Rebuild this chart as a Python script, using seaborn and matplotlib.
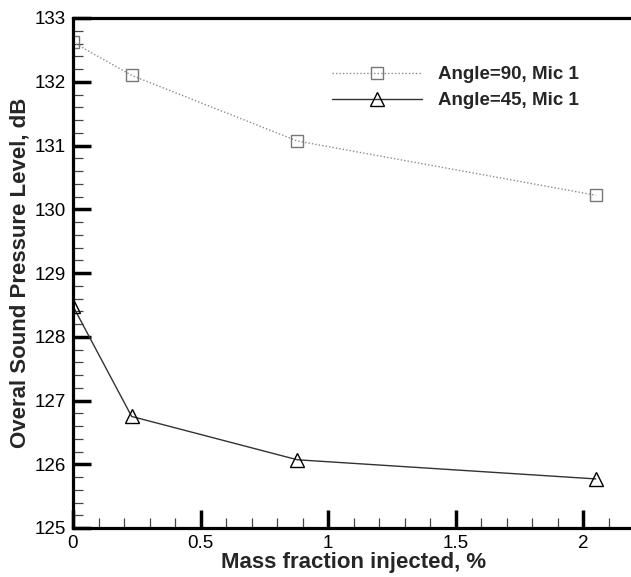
import numpy as np
import pandas as pd
import matplotlib
matplotlib.use("Agg")
import matplotlib.pyplot as plt
import seaborn as sns
from matplotlib.ticker import MultipleLocator, FuncFormatter

# Data
mass_frac = [0.0, 0.23, 0.88, 2.05]
spl_angle90 = [132.62, 132.10, 131.07, 130.22]
spl_angle45 = [128.48, 126.75, 126.07, 125.77]
series_labels = ["Angle=90, Mic 1", "Angle=45, Mic 1"]

df90 = pd.DataFrame({"x": mass_frac, "y": spl_angle90})
df45 = pd.DataFrame({"x": mass_frac, "y": spl_angle45})

sns.set_style("ticks")
plt.rcParams["font.family"] = ["Liberation Sans", "DejaVu Sans"]

fig = plt.figure(figsize=(6.31, 5.77), dpi=100)
ax = fig.add_axes([73 / 631, 49 / 577, (634 - 73) / 631, (528 - 18) / 577])

sns.lineplot(data=df90, x="x", y="y", ax=ax, color="#8c8c8c", linestyle=(0, (1, 1.5)),
             linewidth=1.0, marker="s", markersize=8, markerfacecolor="none",
             markeredgecolor="#777777", markeredgewidth=1.0, label=series_labels[0])
sns.lineplot(data=df45, x="x", y="y", ax=ax, color="#333333", linestyle="-",
             linewidth=1.0, marker="^", markersize=10, markerfacecolor="none",
             markeredgecolor="black", markeredgewidth=1.0, label=series_labels[1])

ax.set_xlim(0, 2.2)
ax.set_ylim(125, 133)
ax.xaxis.set_major_locator(MultipleLocator(0.5))
ax.xaxis.set_minor_locator(MultipleLocator(0.1))
ax.yaxis.set_major_locator(MultipleLocator(1))
ax.yaxis.set_minor_locator(MultipleLocator(0.2))
ax.xaxis.set_major_formatter(FuncFormatter(lambda v, p: f"{v:g}"))

for side in ["left", "bottom", "top"]:
    ax.spines[side].set_linewidth(2.3)
    ax.spines[side].set_color("black")
ax.spines["right"].set_visible(False)

ax.tick_params(which="major", direction="in", length=13, width=2.5, labelsize=13.5,
               pad=5, colors="black", top=False, right=False)
ax.tick_params(which="minor", direction="in", length=7, width=0.9, color="#444444",
               top=False, right=False)

ax.set_xlabel("Mass fraction injected, %", fontsize=16, fontweight="bold", labelpad=0)
ax.set_ylabel("Overal Sound Pressure Level, dB", fontsize=16, fontweight="bold", labelpad=3)

ax.legend(loc="upper left", bbox_to_anchor=(332 / 631, 1 - 66 / 577),
          bbox_transform=fig.transFigure, frameon=False, borderpad=0, borderaxespad=0,
          handlelength=4.8, handletextpad=0.85, labelspacing=0.48,
          prop={"weight": "bold", "size": 13.5})

fig.savefig("out.png", dpi=100)
